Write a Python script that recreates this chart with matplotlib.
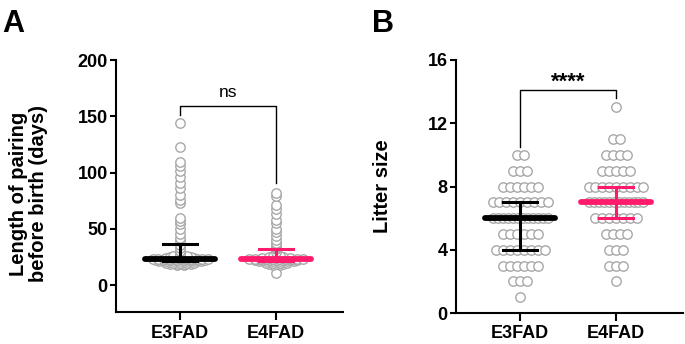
import matplotlib.pyplot as plt
import numpy as np

plt.rcParams['font.family'] = ['Liberation Sans', 'DejaVu Sans']

groups = ['E3FAD', 'E4FAD']
colors = ['#000000', '#ff1a6b']

# panel A: length of pairing before birth (days)
pairing_e3 = ([18] * 2 + [19] * 4 + [20] * 5 + [21] * 7 + [22] * 8 + [23] * 11 + [24] * 5 + [25] * 4 + [26] * 3
              + [27, 28, 30, 33, 36, 39, 42, 45, 50, 54, 57, 60, 73, 76, 80, 86, 91, 96, 101, 106, 109, 123, 144])
pairing_e4 = ([11] + [18] * 2 + [19] * 3 + [20] * 4 + [21] * 6 + [22] * 7 + [23] * 10 + [24] * 5 + [25] * 3 + [26] * 2
              + [29, 32, 33, 34, 36, 37, 40, 44, 47, 50, 55, 58, 63, 68, 71, 79, 82])

# panel B: litter size (value: count)
litter_e3 = {10: 2, 9: 3, 8: 6, 7: 9, 6: 12, 5: 6, 4: 8, 3: 6, 2: 3, 1: 1}
litter_e4 = {13: 1, 11: 2, 10: 4, 9: 5, 8: 9, 7: 12, 6: 7, 5: 4, 4: 3, 3: 3, 2: 1}


def row_offsets(vals, px_per_unit, step=7.0, max_span=55.0):
    # points with equal values sit in one centred row, squeezed if too wide
    vals = np.asarray(vals)
    off = np.zeros(len(vals))
    for v in np.unique(vals):
        idx = np.where(vals == v)[0]
        k = len(idx)
        if k > 1:
            s = min(step, max_span / (k - 1))
            off[idx] = (np.arange(k) - (k - 1) / 2) * s
    return off / px_per_unit


def panel(ax, data, ylim, yticks, ylabel, bracket, star, star_kw):
    px_x = 96.0
    for i, vals in enumerate(data):
        vals = np.asarray(vals, dtype=float)
        x = i + row_offsets(vals, px_x)
        ax.scatter(x, vals, s=46, facecolor='white', edgecolor='#a8a8a8', linewidth=1.0, zorder=2)
        q1, med, q3 = np.percentile(vals, [25, 50, 75])
        c = colors[i]
        ax.plot([i - 0.36, i + 0.36], [med, med], color=c, lw=4.2, solid_capstyle='round', zorder=3)
        ax.plot([i, i], [q1, q3], color=c, lw=2.2, zorder=3)
        for q in (q1, q3):
            ax.plot([i - 0.18, i + 0.18], [q, q], color=c, lw=2.2, zorder=3)
    top, left, right = bracket
    ax.plot([0, 0, 1, 1], [left, top, top, right], color='black', lw=1.0, zorder=3)
    ax.text(0.5, star[1], star[0], ha='center', va='center', **star_kw)
    ax.set_xlim(-0.667, 1.698)
    ax.set_ylim(*ylim)
    ax.set_yticks(yticks)
    ax.set_xticks([0, 1])
    ax.set_xticklabels(groups)
    ax.set_ylabel(ylabel, fontsize=14.5, fontweight='bold', linespacing=1.05)
    for s in ('top', 'right'):
        ax.spines[s].set_visible(False)
    for s in ('left', 'bottom'):
        ax.spines[s].set_linewidth(1.5)
    ax.tick_params(axis='y', length=4, width=1.5, labelsize=13, pad=2)
    ax.tick_params(axis='x', length=6, width=1.5, labelsize=13, pad=3)
    for t in ax.get_xticklabels() + ax.get_yticklabels():
        t.set_fontweight('bold')


fig = plt.figure(figsize=(6.85, 3.44), dpi=100)
axA = fig.add_axes([116 / 685, 1 - 312 / 344, 227 / 685, 252 / 344])
axB = fig.add_axes([456 / 685, 1 - 313 / 344, 227 / 685, 253 / 344])

litter_e3_vals = [v for v, n in litter_e3.items() for _ in range(n)]
litter_e4_vals = [v for v, n in litter_e4.items() for _ in range(n)]

panel(axA, [pairing_e3, pairing_e4], (-24, 200), [0, 50, 100, 150, 200],
      'Length of pairing\nbefore birth (days)', (159, 151, 91), ('ns', 171),
      dict(fontsize=12.5))
panel(axB, [litter_e3_vals, litter_e4_vals], (0, 16), [0, 4, 8, 12, 16],
      'Litter size', (14.1, 10.5, 13.6), ('****', 14.6),
      dict(fontsize=16, fontweight='bold'))

axA.yaxis.set_label_coords(-0.30, 0.47)
axB.yaxis.set_label_coords(-0.28, 0.5)

fig.text(2 / 685, 1 - 9 / 344, 'A', fontsize=22, fontweight='bold', va='top', ha='left')
fig.text(372 / 685, 1 - 9 / 344, 'B', fontsize=22, fontweight='bold', va='top', ha='left')

fig.savefig('out.png', dpi=100)
